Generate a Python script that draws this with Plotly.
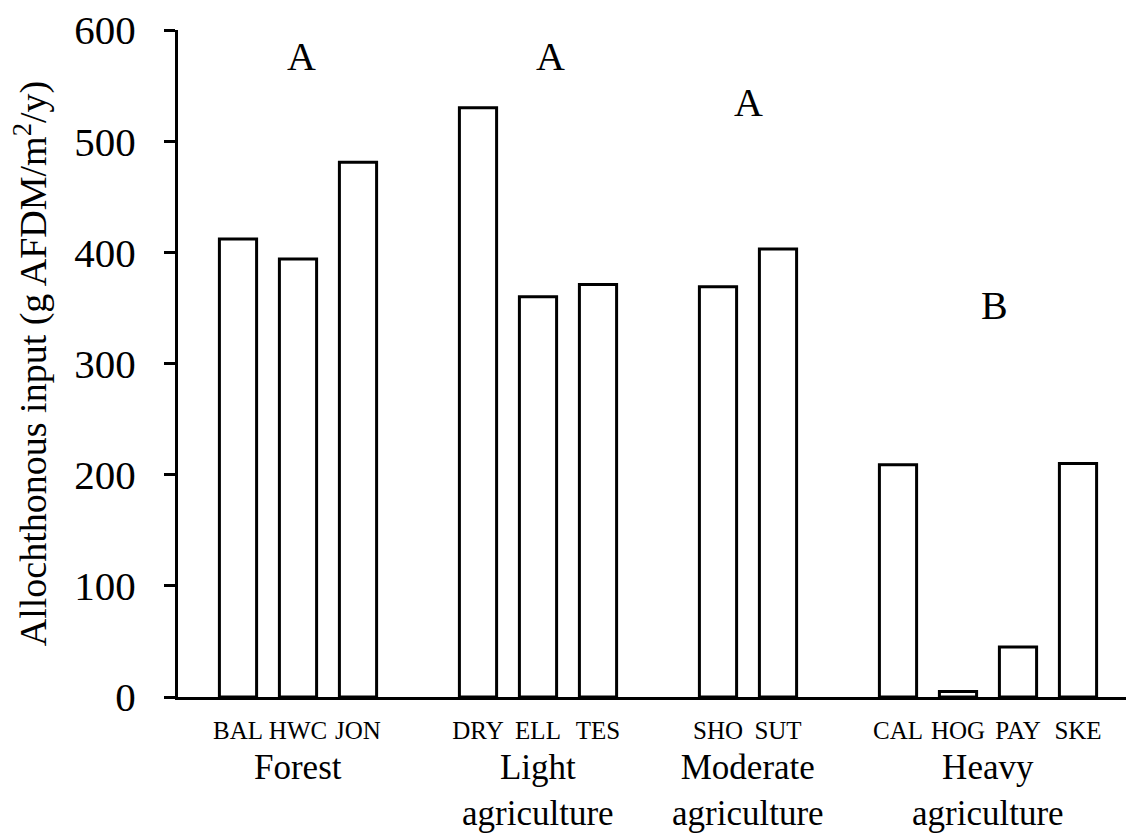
import plotly.graph_objects as go

# Allochthonous input per stream site, grouped by land use
sites = ["BAL", "HWC", "JON", "DRY", "ELL", "TES", "SHO", "SUT", "CAL", "HOG", "PAY", "SKE"]
inputs = [412, 394, 481, 530, 360, 371, 369, 403, 209, 5, 45, 210]
# slot index of each site along the x axis (empty slots separate land-use groups)
slots = [1, 2, 3, 5, 6, 7, 9, 10, 12, 13, 14, 15]

groups = ["Forest", "Light<br>agriculture", "Moderate<br>agriculture", "Heavy<br>agriculture"]
group_centers = [2, 6, 9.5, 13.5]

letters = ["A", "A", "A", "B"]
letter_x = [2.05, 6.2, 9.5, 13.6]
letter_y = [576, 576, 535, 352]

FONT = "Liberation Serif, Times New Roman, serif"

fig = go.Figure(
    go.Bar(
        x=slots,
        y=inputs,
        width=0.62,
        marker=dict(color="white", line=dict(color="black", width=3)),
        showlegend=False,
    )
)

for txt, x, y in zip(letters, letter_x, letter_y):
    fig.add_annotation(x=x, y=y, xref="x", yref="y", text=txt, showarrow=False,
                       font=dict(family=FONT, size=40, color="black"),
                       xanchor="center", yanchor="middle")

for txt, x in zip(groups, group_centers):
    fig.add_annotation(x=x, y=-0.074, xref="x", yref="paper", text=txt, showarrow=False,
                       font=dict(family=FONT, size=35, color="black"),
                       xanchor="center", yanchor="top", align="center")

fig.update_layout(
    width=1133,
    height=836,
    margin=dict(l=178, r=7, t=24, b=139),
    paper_bgcolor="white",
    plot_bgcolor="white",
    font=dict(family=FONT, color="black"),
    xaxis=dict(
        range=[0, 15.8],
        tickvals=slots,
        ticktext=sites,
        tickfont=dict(family=FONT, size=25, color="black"),
        ticks="",
        ticklabelstandoff=9,
        showgrid=False,
        zeroline=False,
        showline=True,
        linecolor="black",
        linewidth=3,
    ),
    yaxis=dict(
        range=[0, 600],
        tickvals=[0, 100, 200, 300, 400, 500, 600],
        tickfont=dict(family=FONT, size=41, color="black"),
        ticks="outside",
        ticklen=11,
        tickwidth=3,
        tickcolor="black",
        ticklabelstandoff=20,
        showgrid=False,
        zeroline=False,
        showline=True,
        linecolor="black",
        linewidth=3,
        title=dict(text="Allochthonous input (g AFDM/m<sup>2</sup>/y)",
                   font=dict(family=FONT, size=38, color="black"),
                   standoff=16),
    ),
)

fig.write_html("out.html")
